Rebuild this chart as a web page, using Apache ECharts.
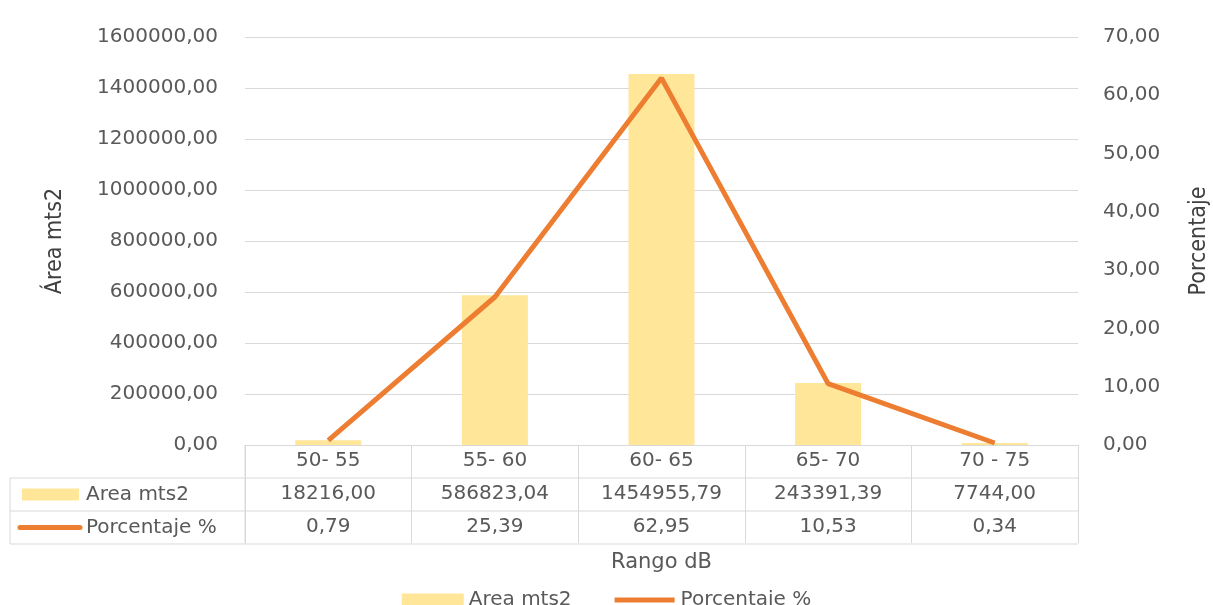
<!DOCTYPE html>
<html><head><meta charset="utf-8">
<script src="https://cdn.jsdelivr.net/npm/echarts@6/dist/echarts.min.js"></script>
<style>html,body{margin:0;padding:0;background:#fff}#c{width:1213px;height:605px}</style>
</head><body><div id="c"></div>
<script>
const categories = ['50- 55', '55- 60', '60- 65', '65- 70', '70 - 75'];
const areaValues = [18216.00, 586823.04, 1454955.79, 243391.39, 7744.00];
const pctValues = [0.79, 25.39, 62.95, 10.53, 0.34];
const seriesNames = ['Area mts2', 'Porcentaje %'];

const fmt = v => v.toFixed(2).replace('.', ',');
const gray = '#595959', lineGray = '#d9d9d9';
const BAR = '#FFE699', LINE = '#ED7D31';
const F = 'DejaVu Sans, Verdana, sans-serif';
const NARROW = '"Liberation Sans Narrow", "DejaVu Sans Condensed", sans-serif';
const FS = 20;

const chart = echarts.init(document.getElementById('c'));
const G = {left: 245, right: 135, top: 37, bottom: 160, outerBoundsMode: 'none', containLabel: false};
const rowAxis = (data, off) => ({
  type: 'category', data: data, position: 'bottom', offset: off,
  axisLine: {show: false}, axisTick: {show: false},
  axisLabel: {color: gray, fontFamily: F, fontSize: FS, margin: 6, interval: 0}
});
chart.setOption({
  animation: false,
  grid: G,
  legend: {
    bottom: -10, left: 'center', itemWidth: 62, itemHeight: 13, itemGap: 42,
    textStyle: {color: gray, fontFamily: F, fontSize: 20},
    data: [
      {name: seriesNames[0], icon: 'rect'},
      {name: seriesNames[1], icon: 'path://M0,0 M62,13 M1,4 L61,4 L61,9 L1,9 Z', itemStyle: {color: LINE}}
    ]
  },
  xAxis: [
    {
      type: 'category', data: categories,
      name: 'Rango dB', nameLocation: 'middle', nameGap: 107,
      nameTextStyle: {color: gray, fontFamily: F, fontSize: 21},
      axisLine: {lineStyle: {color: lineGray, width: 1}},
      axisTick: {show: true, length: 98, lineStyle: {color: lineGray}},
      axisLabel: {color: gray, fontFamily: F, fontSize: FS, margin: 6, interval: 0}
    },
    rowAxis(areaValues.map(fmt), 33),
    rowAxis(pctValues.map(fmt), 66)
  ],
  yAxis: [
    {
      type: 'value', min: 0, max: 1600000, interval: 200000,
      name: 'Área mts2', nameLocation: 'middle', nameGap: 178, nameRotate: 90,
      nameTextStyle: {color: '#404040', fontFamily: NARROW, fontSize: 23},
      axisLine: {show: false}, axisTick: {show: false},
      axisLabel: {color: gray, fontFamily: F, fontSize: FS, margin: 27, formatter: fmt},
      splitLine: {lineStyle: {color: lineGray}}
    },
    {
      type: 'value', min: 0, max: 70, interval: 10,
      name: 'Porcentaje', nameLocation: 'middle', nameGap: 110, nameRotate: 90,
      nameTextStyle: {color: '#404040', fontFamily: NARROW, fontSize: 23},
      axisLine: {show: false}, axisTick: {show: false},
      axisLabel: {color: gray, fontFamily: F, fontSize: FS, margin: 25, formatter: fmt},
      splitLine: {show: false}
    }
  ],
  series: [
    {name: seriesNames[0], type: 'bar', data: areaValues, barWidth: 66,
     itemStyle: {color: BAR}, xAxisIndex: 0, yAxisIndex: 0},
    {name: seriesNames[1], type: 'line', data: pctValues, xAxisIndex: 0, yAxisIndex: 1,
     showSymbol: false, symbol: 'none', z: 5,
     lineStyle: {color: LINE, width: 5}, itemStyle: {color: LINE}}
  ]
});

// data table frame (layout only)
const W = 1213, H = 605;
const x0 = G.left, x1 = W - G.right, y0 = H - G.bottom;
const rowH = 33, tableLeft = 10;
const g = [];
[1, 2, 3].forEach(i => g.push({type: 'line', silent: true,
  shape: {x1: tableLeft, y1: y0 + rowH * i, x2: x1, y2: y0 + rowH * i},
  style: {stroke: lineGray, lineWidth: 1}}));
g.push({type: 'line', silent: true, shape: {x1: tableLeft, y1: y0 + rowH, x2: tableLeft, y2: y0 + rowH * 3},
  style: {stroke: lineGray, lineWidth: 1}});
g.push({type: 'line', silent: true, shape: {x1: x0, y1: y0, x2: x0, y2: y0 + rowH * 3},
  style: {stroke: lineGray, lineWidth: 1}});
g.push({type: 'rect', silent: true, shape: {x: 22, y: y0 + rowH * 1.5 - 6, width: 57, height: 12},
  style: {fill: BAR}});
g.push({type: 'line', silent: true, shape: {x1: 20, y1: y0 + rowH * 2.5, x2: 80, y2: y0 + rowH * 2.5},
  style: {stroke: LINE, lineWidth: 5, lineCap: 'round'}});
seriesNames.forEach((n, i) => g.push({type: 'text', silent: true,
  style: {text: n, x: 86, y: y0 + rowH * (1.5 + i), textVerticalAlign: 'middle', textAlign: 'left',
    fill: gray, font: FS + 'px ' + F}}));
chart.setOption({graphic: g});
</script></body></html>
